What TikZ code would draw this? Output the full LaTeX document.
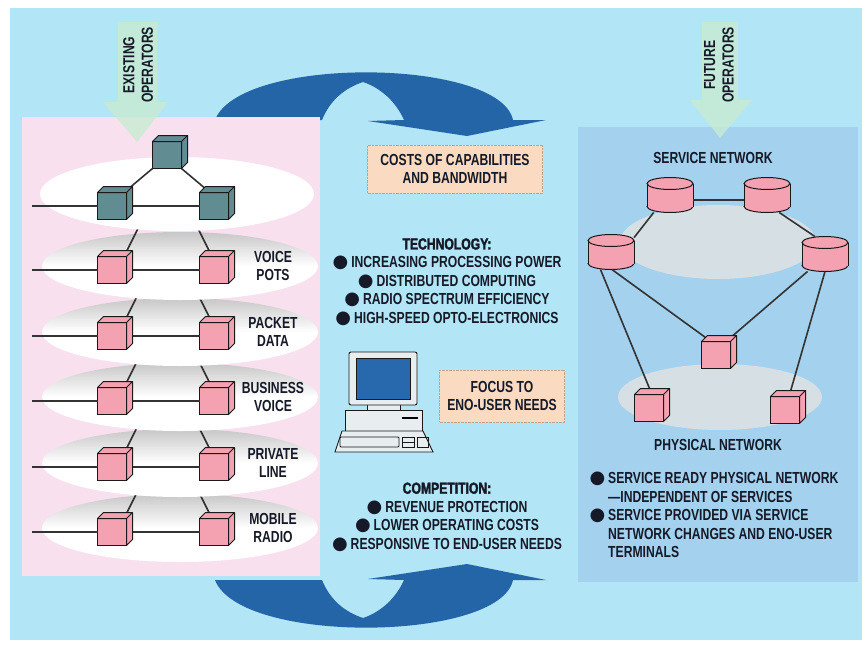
\documentclass[tikz,border=0pt]{standalone}
\usepackage{fontspec}
\setmainfont{Liberation Sans}[FakeStretch=0.76]
\newfontfamily\heavyfont{Liberation Sans}[FakeStretch=0.76,FakeBold=2]
\newfontfamily\dotfont{DejaVu Sans}
\usepackage{tikz}
\usetikzlibrary{shapes.geometric}

\definecolor{skyblue}{RGB}{178,229,246}
\definecolor{panelpink}{RGB}{249,224,238}
\definecolor{panelblue}{RGB}{163,209,238}
\definecolor{flowblue}{RGB}{36,101,168}
\definecolor{peach}{RGB}{250,218,192}
\definecolor{cubepink}{RGB}{244,162,178}
\definecolor{cubeteal}{RGB}{96,140,146}
\definecolor{opgreen}{RGB}{200,236,210}
\definecolor{fog}{RGB}{214,223,228}
\definecolor{ink}{RGB}{22,26,40}
\definecolor{screenblue}{RGB}{40,104,172}
\definecolor{casegrey}{RGB}{232,237,240}

\newcommand{\blt}{{\dotfont\fontsize{18}{18}\selectfont ●}\hspace{3pt}}

\tikzset{
  txt/.style={font=\fontsize{16}{18.5}\selectfont\bfseries, text=ink, align=center, inner sep=0pt},
  notebox/.style={txt, fill=peach, draw=peach!75!black, densely dotted, line width=0.4pt},
  cube/.style={draw=black!90, line width=1pt, fill=#1, minimum width=29pt, minimum height=27pt, inner sep=0pt, outer sep=0pt},
  cubeside/.style={draw=black!90, line width=1pt, fill=#1, line join=round},
  can/.style={minimum width=46pt, minimum height=35pt, inner sep=0pt, outer sep=0pt},
  canpart/.style={draw=black!90, line width=1pt, fill=cubepink},
  link/.style={line width=1.6pt, draw=black!80},
  disc/.style={top color=black!22, bottom color=white, middle color=white},
  oparrow/.style={fill=opgreen, fill opacity=0.8},
  pcline/.style={draw=black!90, line width=0.9pt}
}

\begin{document}
\begin{tikzpicture}[x=1pt,y=-1pt]
\useasboundingbox (0,0) rectangle (866,645);
\fill[white] (0,0) rectangle (866,645);
\fill[skyblue] (10,8) rectangle (862,640);

% flow between the two halves
\fill[flowblue] (215,120) -- (322,120)
  .. controls (330,100) and (345,88) .. (363,82)
  .. controls (381,88) and (396,102) .. (404,120)
  -- (368,121) -- (467,136) -- (546,120) -- (513,120)
  .. controls (500,58) and (240,55) .. (215,120) -- cycle;
\fill[flowblue] (215,580) -- (322,580)
  .. controls (330,600) and (345,612) .. (363,618)
  .. controls (381,612) and (396,598) .. (404,580)
  -- (368,579) -- (467,564) -- (546,580) -- (513,580)
  .. controls (500,642) and (240,645) .. (215,580) -- cycle;

\fill[panelpink] (22,117) rectangle (320,576);
\fill[panelblue] (578,127) rectangle (858,582);

% one network per service, drawn bottom up
\foreach \y/\name [count=\i] in {532/{MOBILE\\RADIO},467/{PRIVATE\\LINE},401/{BUSINESS\\VOICE},336/{PACKET\\DATA},270/{VOICE\\POTS}}{
  \shade[disc] (180,\y-4) ellipse [x radius=138, y radius=34];
  \node[cube=cubepink] (l\i) at (112,\y) {};
  \node[cube=cubepink] (r\i) at (214,\y) {};
  \draw[link] (l\i.west) -- ++(-66,0);
  \draw[link] (l\i.east) -- (r\i.west);
  \draw[link] ([xshift=12pt]l\i.north) -- ++(14,-28);
  \draw[link] ([xshift=-2pt]r\i.north) -- ++(-14,-28);
  \foreach \c in {l\i,r\i}
    \filldraw[cubeside=cubepink] (\c.north west) -- ++(6,-6) -- ([shift={(6,-6)}]\c.north east)
      -- ([shift={(6,-6)}]\c.south east) -- (\c.south east) -- (\c.north east) -- cycle
      (\c.north east) -- ++(6,-6);
  \node[txt] (lab\i) at (273,\y-4) {\name};
}

% transport layer on top
\fill[white] (177,194) ellipse [x radius=137, y radius=37];
\node[cube=cubeteal] (t0) at (167,155) {};
\node[cube=cubeteal] (l0) at (112,206) {};
\node[cube=cubeteal] (r0) at (214,206) {};
\draw[link] (l0.west) -- ++(-66,0);
\draw[link] (l0.east) -- (r0.west);
\draw[link] (t0.south west) -- ([xshift=12pt]l0.north);
\draw[link] (t0.south east) -- ([xshift=-4pt]r0.north);
\foreach \c in {t0,l0,r0}
  \filldraw[cubeside=cubeteal] (\c.north west) -- ++(6,-6) -- ([shift={(6,-6)}]\c.north east)
    -- ([shift={(6,-6)}]\c.south east) -- (\c.south east) -- (\c.north east) -- cycle
    (\c.north east) -- ++(6,-6);

% operators
\fill[oparrow] (118,22) -- (157,22) -- (157,102) -- (168,102) -- (137,142) -- (103,102) -- (118,102) -- cycle;
\node[txt, rotate=90] (existing) at (138,65) {EXISTING\\OPERATORS};
\fill[oparrow] (702,22) -- (738,22) -- (738,100) -- (752,100) -- (720,138) -- (690,100) -- (702,100) -- cycle;
\node[txt, rotate=90] (future) at (719,65) {FUTURE\\OPERATORS};

% drivers in the middle
\node[notebox, minimum width=175pt, minimum height=48pt] (costs) at (455,169) {COSTS OF CAPABILITIES\\AND BANDWIDTH};
\node[txt] (tech) at (447,282) {{\heavyfont\bfseries TECHNOLOGY:}\\\blt INCREASING PROCESSING POWER\\\blt DISTRIBUTED COMPUTING\\\blt RADIO SPECTRUM EFFICIENCY\\\blt HIGH-SPEED OPTO-ELECTRONICS};
\node[notebox, minimum width=125pt, minimum height=52pt] (focus) at (502,396) {FOCUS TO\\ENO-USER NEEDS};
\node[txt] (comp) at (447,517) {{\heavyfont\bfseries COMPETITION:}\\\blt REVENUE PROTECTION\\\blt LOWER OPERATING COSTS\\\blt RESPONSIVE TO END-USER NEEDS};

% desktop computer
\filldraw[pcline, fill=casegrey] (345,410) rectangle (422,431);
\filldraw[pcline, fill=casegrey] (367,404) rectangle (400,410);
\filldraw[pcline, fill=casegrey, rounded corners=2pt] (349,352) rectangle (417,405);
\filldraw[pcline, fill=screenblue] (356,358) rectangle (410,399);
\draw[line width=2pt] (402,418) -- (418,418);
\filldraw[pcline, fill=casegrey] (342,431) -- (423,431) -- (433,452) -- (335,452) -- cycle;
\draw[pcline, rounded corners=1pt] (340,437) rectangle (399,447);
\draw[pcline] (402,437) rectangle (414,447) (402,442) -- (414,442);
\draw[pcline] (417,437) rectangle (428,447);

% service network over physical network
\node[txt] (svc) at (713,158) {SERVICE NETWORK};
\fill[fog] (718,242) ellipse [x radius=98, y radius=37];
\fill[fog] (720,397) ellipse [x radius=102, y radius=33];
\node[can] (c1) at (670,195) {};
\node[can] (c2) at (767,195) {};
\node[can] (c3) at (611,252) {};
\node[can] (c4) at (825,254) {};
\foreach \c in {c1,c2,c3,c4}{
  \filldraw[canpart] ([yshift=6pt]\c.south) ellipse [x radius=23, y radius=6];
  \fill[cubepink] (\c.north west) ++(0,6) rectangle ([yshift=6pt]\c.south east);
  \draw[canpart] (\c.north west) ++(0,6) -- ([yshift=6pt]\c.south west)
    (\c.north east) ++(0,6) -- ([yshift=6pt]\c.south east);
  \filldraw[canpart] ([yshift=-6pt]\c.north) ellipse [x radius=23, y radius=6];
}
\node[cube=cubepink] (p1) at (649,408) {};
\node[cube=cubepink] (p2) at (716,355) {};
\node[cube=cubepink] (p3) at (785,410) {};
\draw[link] (c1.-12) -- (c2.192);
\draw[link] (c1.227) -- (c3.32);
\draw[link] (c2.-55) -- (c4.120);
\draw[link] (c3.239) -- ([xshift=3pt]p1.north);
\draw[link] (c3.273) -- ([xshift=-5pt]p2.north);
\draw[link] (c4.225) -- ([xshift=10pt]p2.north);
\draw[link] (c4.270) -- ([xshift=4pt]p3.north);
\foreach \c in {p1,p2,p3}
  \filldraw[cubeside=cubepink] (\c.north west) -- ++(6,-6) -- ([shift={(6,-6)}]\c.north east)
    -- ([shift={(6,-6)}]\c.south east) -- (\c.south east) -- (\c.north east) -- cycle
    (\c.north east) -- ++(6,-6);
\node[txt] (phys) at (718,445) {PHYSICAL NETWORK};
\node[txt, align=left, anchor=north west] (notes) at (608,472) {\llap{\blt}SERVICE READY PHYSICAL NETWORK\\
  —INDEPENDENT OF SERVICES\\
  \llap{\blt}SERVICE PROVIDED VIA SERVICE\\
  NETWORK CHANGES AND ENO-USER\\
  TERMINALS};
\end{tikzpicture}
\end{document}
